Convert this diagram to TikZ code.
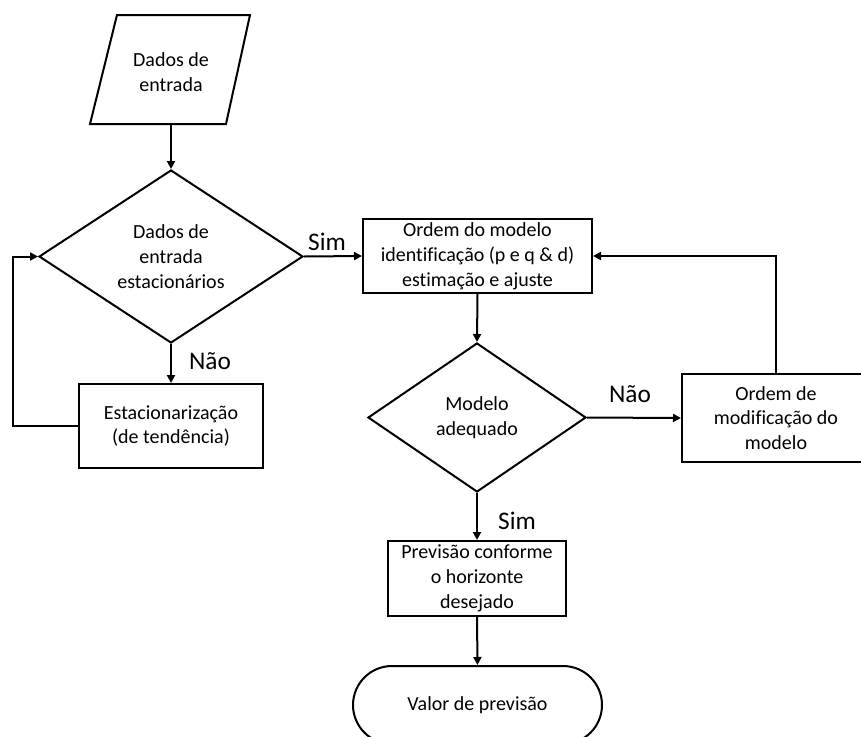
\documentclass[tikz,border=0pt]{standalone}
\usepackage{fontspec}
\setmainfont[Ligatures=NoCommon]{Carlito}
\usetikzlibrary{arrows.meta,shapes.geometric}
\tikzset{
  base/.style={draw=black, line width=1.5pt, align=center, font=\fontsize{15pt}{18.6pt}\selectfont, inner sep=1pt},
  boxnode/.style={base, rectangle},
  decnode/.style={base, diamond},
  termnode/.style={base, rectangle, rounded corners=29.25pt},
  arr/.style={line width=1.5pt, -{Triangle[length=6pt,width=6pt]}},
  plain/.style={line width=1.5pt},
  lbl/.style={font=\fontsize{19pt}{22pt}\selectfont, inner sep=0pt}
}
\begin{document}
\begin{tikzpicture}[x=0.75pt,y=-0.75pt]
\useasboundingbox (0,0) rectangle (861,736);
\clip (0,0) rectangle (861,736);
% input parallelogram
\draw[plain, line join=miter] (117,15) -- (250,15) -- (226,124) -- (90,124) -- cycle;
\node[align=center, font=\fontsize{15pt}{18.6pt}\selectfont, minimum height=78pt, inner sep=0pt] (para) at (171,72) {Dados de\\entrada};
% decision 1
\node[decnode, aspect=1.53, minimum width=198pt, minimum height=129.75pt] (d1) at (171,256.5) {Dados de\\entrada\\estacionários};
% box 1
\node[boxnode, minimum width=171.75pt, minimum height=55.5pt] (b1) at (477.5,256) {Ordem do modelo\\identificação (p e q \& d)\\estimação e ajuste};
% stationarization box
\node[boxnode, minimum width=138pt, minimum height=63pt] (est) at (171,426) {Estacionarização\\(de tendência)};
% decision 2
\node[decnode, aspect=1.46, minimum width=163.5pt, minimum height=111.75pt] (d2) at (477,417.5) {Modelo\\adequado};
% box 3
\node[boxnode, minimum width=141pt, minimum height=66pt] (b3) at (776,418) {Ordem de\\modificação do\\modelo};
% forecast box
\node[boxnode, minimum width=133.5pt, minimum height=56.25pt] (b4) at (477,578.5) {Previsão conforme\\o horizonte\\desejado};
% terminal
\node[termnode, minimum width=186.75pt, minimum height=58.5pt] (term) at (477.5,705) {Valor de previsão};
% connectors
\draw[arr] (para.south) -- (d1.north);
\draw[arr] (d1.east) -- (b1.west);
\draw[arr] (d1.south) -- (est.north);
\coordinate (lp) at (13,426);
\draw[arr] (est.west) -- (lp) |- (d1.west);
\draw[arr] (b1.south) -- (d2.north);
\draw[arr] (d2.east) -- (b3.west);
\draw[arr] (b3.north) |- (b1.east);
\draw[arr] (d2.south) -- (b4.north);
\draw[arr] (b4.south) -- (term.north);
% labels
\node[lbl] (lsim1) at (327,242) {Sim};
\node[lbl] (lnao1) at (210,361) {Não};
\node[lbl] (lnao2) at (630,394) {Não};
\node[lbl] (lsim2) at (517,521) {Sim};
\end{tikzpicture}
\end{document}
